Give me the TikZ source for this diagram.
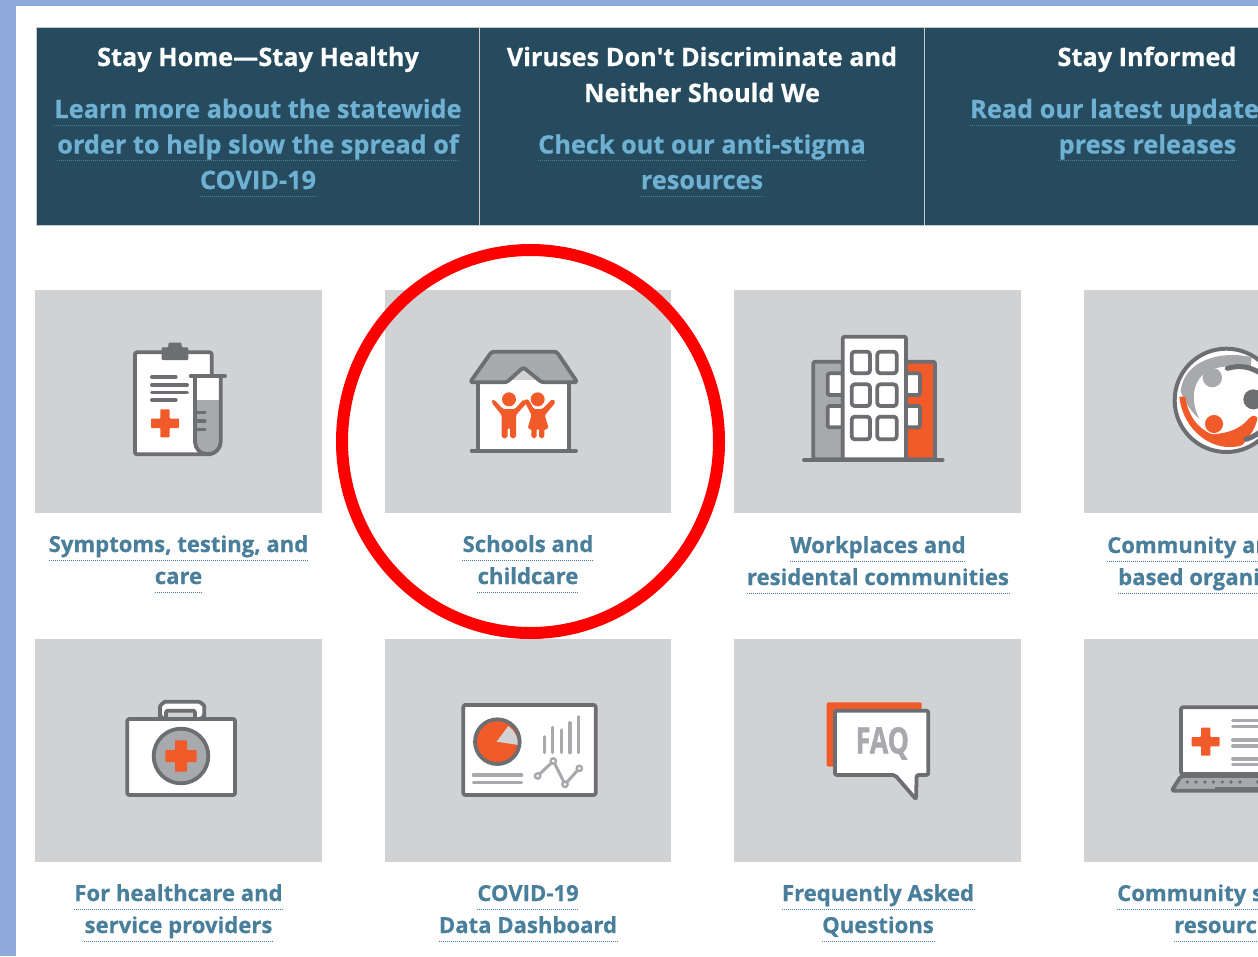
\documentclass[tikz,border=0pt]{standalone}
\usepackage{fontspec}
\setmainfont{Open Sans}[BoldFeatures={FakeBold=0.5}]
\newfontfamily\plainap{Open Sans}[BoldFeatures={FakeBold=0.5}]
\newfontfamily\faqfont{Open Sans}[BoldFeatures={FakeBold=1.6}]
\usetikzlibrary{calc}
\definecolor{framec}{HTML}{8EAADB}
\definecolor{bannerc}{HTML}{274B5E}
\definecolor{bannerl}{HTML}{C8CACB}
\definecolor{sky}{HTML}{6FB1D3}
\definecolor{linkc}{HTML}{4A7F9C}
\definecolor{cardc}{HTML}{D1D2D4}
\definecolor{ink}{HTML}{6D6E71}
\definecolor{midg}{HTML}{A7A9AC}
\definecolor{orangec}{HTML}{F15A29}
\tikzset{
  x=1pt,y=-1pt,
  cardbox/.style={fill=cardc,draw=none},
  iconline/.style={draw=ink,line width=3.8pt,line join=round,line cap=round,rounded corners=2pt},
  softline/.style={draw=midg,line width=3.2pt,line cap=round},
  inkline/.style={draw=ink,line width=3.2pt,line cap=round},
  orangefill/.style={fill=orangec,draw=none},
  icon/.style={shift={#1},scale=1/3},
  headtxt/.style={anchor=base,inner sep=0pt,font=\fontsize{25.3}{25.3}\selectfont\bfseries,white},
  bandtxt/.style={anchor=base,inner sep=0pt,font=\fontsize{25.3}{25.3}\selectfont\bfseries,sky},
  bandtxtl/.style={anchor=base west,inner sep=0pt,font=\fontsize{25.3}{25.3}\selectfont\bfseries,sky},
  cardtxt/.style={anchor=base,inner sep=0pt,font=\fontsize{22.1}{22.1}\selectfont\bfseries,linkc},
  cardtxtl/.style={anchor=base west,inner sep=0pt,font=\fontsize{22.1}{22.1}\selectfont\bfseries,linkc},
  banddots/.style={draw=linkc,line width=.9pt,dash pattern=on 1pt off 1pt},
  carddots/.style={draw=linkc,line width=.9pt,dash pattern=on 1pt off 1pt},
}
\newcommand{\bandlink}[4]{\node[bandtxt] (#1) at (#2,#3) {#4};
  \draw[banddots] ($(#1.base west)+(0,7.3)$) -- ($(#1.base east)+(0,7.3)$);}
\newcommand{\bandlinkl}[4]{\node[bandtxtl] (#1) at (#2,#3) {#4};
  \draw[banddots] ($(#1.base west)+(0,7.3)$) -- ($(#1.base east)+(0,7.3)$);}
\newcommand{\cardlink}[4]{\node[cardtxt] (#1) at (#2,#3) {#4};
  \draw[carddots] ($(#1.base west)+(0,8)$) -- ($(#1.base east)+(0,8)$);}
\newcommand{\cardlinkl}[4]{\node[cardtxtl] (#1) at (#2,#3) {#4};
  \draw[carddots] ($(#1.base west)+(0,8)$) -- ($(#1.base east)+(0,8)$);}
\newcommand{\plusmark}[4]{\fill[orangefill,rounded corners=.8pt] (#1-#4,#2-#3) -- (#1+#4,#2-#3) -- (#1+#4,#2-#4) -- (#1+#3,#2-#4) -- (#1+#3,#2+#4) -- (#1+#4,#2+#4) -- (#1+#4,#2+#3) -- (#1-#4,#2+#3) -- (#1-#4,#2+#4) -- (#1-#3,#2+#4) -- (#1-#3,#2-#4) -- (#1-#4,#2-#4) -- cycle;}
\begin{document}
\begin{tikzpicture}
\useasboundingbox (0,0) rectangle (1258,956);
\clip (0,0) rectangle (1258,956);
\fill[white] (0,0) rectangle (1258,956);
\fill[framec] (0,0) rectangle (1258,6);
\fill[framec] (0,0) rectangle (16,956);
% banner
\fill[bannerc,draw=bannerl,line width=1pt] (36,27.5) rectangle (1270,225.5);
\draw[bannerl,line width=1pt] (479.5,27.5) -- (479.5,225.5);
\draw[bannerl,line width=1pt] (924.5,27.5) -- (924.5,225.5);
\node[headtxt] (h1) at (258,66) {Stay Home—Stay Healthy};
\bandlink{b1}{258}{118}{Learn more about the statewide}
\bandlink{b2}{258}{153.5}{order to help slow the spread of}
\bandlink{b3}{258}{189}{COVID-19}
\node[headtxt] (h2a) at (702,66) {Viruses Don{\plainap\bfseries'}t Discriminate and};
\node[headtxt] (h2b) at (702,102) {Neither Should We};
\bandlink{b4}{702}{153.5}{Check out our anti-stigma}
\bandlink{b5}{702}{189}{resources}
\node[headtxt] (h3) at (1147,66) {Stay Informed};
\bandlinkl{b6}{970}{118}{Read our latest update}
\bandlink{b7}{1147.5}{153.5}{press releases}
% cards
\fill[cardbox] (35,290) rectangle (322,513);
\fill[cardbox] (385,290) rectangle (671,513);
\fill[cardbox] (734,290) rectangle (1021,513);
\fill[cardbox] (1084,290) rectangle (1270,513);
\fill[cardbox] (35,639) rectangle (322,862);
\fill[cardbox] (385,639) rectangle (671,862);
\fill[cardbox] (734,639) rectangle (1021,862);
\fill[cardbox] (1084,639) rectangle (1270,862);
% labels
\cardlink{l1}{178.5}{552}{Symptoms, testing, and}
\cardlink{l2}{178.5}{584}{care}
\cardlink{l3}{528}{552}{Schools and}
\cardlink{l4}{528}{584}{childcare}
\cardlink{l5}{878}{553}{Workplaces and}
\cardlink{l6}{878}{585}{residental communities}
\cardlinkl{l7}{1107}{553}{Community an}
\cardlinkl{l8}{1118}{585}{based organi}
\cardlink{l9}{178.5}{901}{For healthcare and}
\cardlink{l10}{178.5}{933}{service providers}
\cardlink{l11}{528}{901}{COVID-19}
\cardlink{l12}{528}{933}{Data Dashboard}
\cardlink{l13}{878}{901}{Frequently Asked}
\cardlink{l14}{878}{933}{Questions}
\cardlinkl{l15}{1117}{901}{Community s}
\cardlinkl{l16}{1174}{933}{resourc}
% icon 1: clipboard
\begin{scope}[icon={(100,320)}]
\draw[iconline,fill=white] (105,97) rectangle (335,403);
\fill[ink,rounded corners=1pt] (185,82) -- (205,82) -- (205,68) -- (245,68) -- (245,82) -- (265,82) -- (265,120) -- (185,120) -- cycle;
\draw[inkline] (155,171) -- (228,171);
\draw[inkline] (155,195) -- (262,195);
\draw[inkline] (155,217) -- (262,217);
\draw[inkline] (155,240) -- (228,240);
\plusmark{195}{310}{42}{14}
\fill[white] (282,165) rectangle (365,245);
\fill[midg] (285,240) -- (362,240) -- (362,360) .. controls (362,385) and (345,402) .. (323,402) .. controls (302,402) and (285,385) .. (285,360) -- cycle;
\draw[iconline] (285,172) -- (285,360) .. controls (285,385) and (302,402) .. (323,402) .. controls (345,402) and (362,385) .. (362,360) -- (362,172);
\draw[iconline] (272,168) -- (375,168);
\draw[inkline] (290,278) -- (315,278);
\draw[inkline] (290,303) -- (315,303);
\draw[inkline] (290,328) -- (315,328);
\end{scope}
% icon 2: house
\begin{scope}[icon={(450,330)}]
\fill[white] (85,150) rectangle (358,362);
\draw[iconline] (85,160) -- (85,362);
\draw[iconline] (358,160) -- (358,362);
\draw[iconline] (65,362) -- (378,362);
\draw[iconline,fill=midg,rounded corners=2.5pt] (60,157) -- (125,65) -- (320,65) -- (382,157) -- (275,157) -- (220,112) -- (170,157) -- cycle;
\fill[orangec] (177,208) circle (21);
\fill[orangec] (263,208) circle (21);
\begin{scope}[orangec,line width=2pt,line join=round]
\filldraw[rounded corners=1.5pt] (130,211) -- (158,240) -- (196,240) -- (222,211) -- (228,217) -- (195,254) -- (195,322) -- (183,322) -- (183,292) -- (170,292) -- (170,322) -- (158,322) -- (158,254) -- (128,217) -- cycle;
\filldraw[rounded corners=1.5pt] (226,213) -- (232,209) -- (250,240) -- (278,240) -- (308,210) -- (314,216) -- (281,255) -- (293,295) -- (280,295) -- (280,322) -- (270,322) -- (270,295) -- (257,295) -- (257,322) -- (247,322) -- (247,295) -- (236,295) -- (248,255) -- cycle;
\end{scope}
\end{scope}
% icon 3: buildings
\begin{scope}[icon={(790,320)}]
\draw[iconline,fill=midg] (70,125) rectangle (158,418);
\draw[iconline,fill=orangec] (348,125) rectangle (435,418);
\draw[iconline,fill=white] (113,160) rectangle (158,225);
\draw[iconline,fill=white] (113,258) rectangle (158,322);
\draw[iconline,fill=white] (348,160) rectangle (390,225);
\draw[iconline,fill=white] (348,258) rectangle (390,322);
\draw[iconline,fill=white] (158,50) rectangle (348,418);
\draw[iconline,rounded corners=3pt,fill=white] (185,95) rectangle (240,160);
\draw[iconline,rounded corners=3pt,fill=white] (262,95) rectangle (320,160);
\draw[iconline,rounded corners=3pt,fill=white] (185,193) rectangle (240,258);
\draw[iconline,rounded corners=3pt,fill=white] (262,193) rectangle (320,258);
\draw[iconline,rounded corners=3pt,fill=white] (185,290) rectangle (240,358);
\draw[iconline,rounded corners=3pt,fill=white] (262,290) rectangle (320,358);
\draw[iconline] (42,420) -- (458,420);
\end{scope}
% icon 4: community ring
\begin{scope}[icon={(1150,330)}]
\draw[draw=ink,line width=4pt,fill=white] (229,211) circle (155);
\fill[midg] (305,82) .. controls (220,60) and (100,88) .. (92,185) .. controls (105,215) and (122,245) .. (148,266) .. controls (118,210) and (125,130) .. (200,114) .. controls (240,104) and (280,108) .. (302,112) -- cycle;
\fill[orangec] (88,200) .. controls (96,285) and (165,352) .. (240,351) .. controls (255,351) and (270,349) .. (278,344) .. controls (300,318) and (320,290) .. (322,262) .. controls (312,254) and (303,258) .. (298,264) .. controls (270,300) and (225,312) .. (185,312) .. controls (140,295) and (112,250) .. (106,200) -- cycle;
\draw[ink,line width=5pt,line cap=round] (232,115) .. controls (270,105) and (300,108) .. (340,135);
\draw[ink,line width=5pt,line cap=round] (288,328) .. controls (310,322) and (325,310) .. (345,295);
\fill[midg] (187,143) circle (29);
\fill[ink] (310,208) circle (30);
\draw[white,line width=1pt,fill=orangec] (192,282) circle (29);
\end{scope}
% icon 5: kit
\begin{scope}[icon={(110,685)}]
\draw[iconline,fill=white,rounded corners=5pt] (150,102) -- (150,80) .. controls (150,60) and (165,50) .. (180,50) -- (250,50) .. controls (270,50) and (283,60) .. (283,80) -- (283,102) -- cycle;
\draw[iconline,fill=cardc] (168,77) rectangle (255,103);
\draw[iconline,fill=white] (52,102) rectangle (375,330);
\draw[iconline,fill=midg] (213,213) circle (82);
\plusmark{213}{213}{47}{18}
\end{scope}
% icon 6: dashboard
\begin{scope}[icon={(450,690)}]
\draw[iconline,fill=white] (40,45) rectangle (437,315);
\fill[orangec] (142,155) circle (67);
\fill[cardc] (140,155) -- (175,108) .. controls (192,120) and (204,140) .. (205,165) -- cycle;
\draw[ink,line width=3.8pt] (142,155) circle (67);
\foreach \xa/\ya in {283/140,308/112,334/120,360/98,386/80}{
  \draw[softline] (\xa,\ya) -- (\xa,188);
}
\draw[softline] (70,255) -- (215,255);
\draw[softline] (70,278) -- (215,278);
\draw[midg,line width=3pt] (263,258) -- (310,213) -- (345,283) -- (388,235);
\foreach \xa/\ya in {263/258,310/213,345/283,388/235}{
  \draw[midg,line width=2.4pt,fill=white] (\xa,\ya) circle (8);
}
\end{scope}
% icon 7: FAQ
\begin{scope}[icon={(810,690)}]
\fill[orangec,rounded corners=1.5pt] (50,37) rectangle (335,230);
\draw[iconline,fill=white] (75,62) -- (355,62) -- (355,255) -- (320,255) -- (318,328) -- (255,255) -- (75,255) -- cycle;
\node[inner sep=0pt,text=midg,font=\faqfont\fontsize{36}{36}\selectfont\bfseries,xscale=.74] (faq) at (217,160) {FAQ};
\end{scope}
% icon 8: laptop
\begin{scope}[icon={(1150,690)}]
\draw[iconline,fill=midg] (93,258) -- (65,302) -- (420,302) -- (420,258) -- cycle;
\draw[iconline,fill=white] (93,52) rectangle (420,252);
\plusmark{167}{155}{42}{14}
\foreach \ya in {92,110,150,168,207,224}{
  \draw[softline] (248,\ya) -- (340,\ya);
}
\foreach \xa in {112,138,165,190,217,243,270,323}{
  \fill[ink] (\xa,276) circle (5.5);
}
\fill[ink] (195,290) rectangle (340,300);
\end{scope}
% highlight
\draw[red,line width=12pt] (530.5,441.5) ellipse (188.5 and 191.5);
\end{tikzpicture}
\end{document}
